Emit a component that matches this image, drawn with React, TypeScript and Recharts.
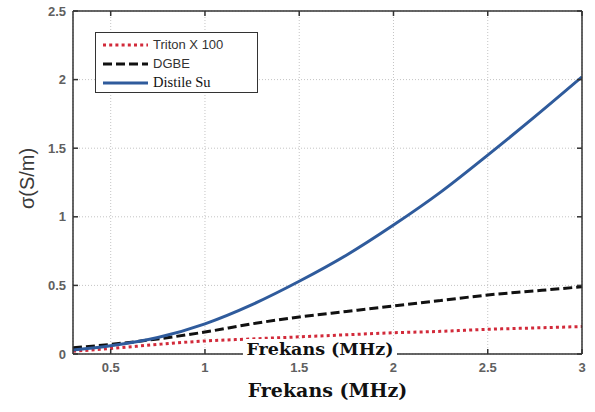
import React from 'react';
import { LineChart, Line, XAxis, YAxis, CartesianGrid, Legend } from 'recharts';

// Conductivity vs. frequency for three liquids
const frequencies = [0.3, 0.5, 0.75, 1, 1.25, 1.5, 1.75, 2, 2.25, 2.5, 2.75, 3];
const tritonX100 = [0.02, 0.04, 0.07, 0.095, 0.11, 0.125, 0.14, 0.155, 0.165, 0.18, 0.19, 0.2];
const dgbe = [0.045, 0.07, 0.11, 0.16, 0.22, 0.27, 0.31, 0.35, 0.39, 0.43, 0.46, 0.49];
const distileSu = [0.03, 0.06, 0.12, 0.22, 0.36, 0.53, 0.72, 0.94, 1.18, 1.45, 1.73, 2.02];

const xTicks = [0.5, 1, 1.5, 2, 2.5, 3];
const yTicks = [0, 0.5, 1, 1.5, 2, 2.5];

const seriesNames = ['Triton X 100', 'DGBE', 'Distile Su'];

const SANS = '"Liberation Sans", Arial, sans-serif';
const SERIF = '"DejaVu Serif", "Liberation Serif", serif';

const series = [
  { key: 'triton', name: seriesNames[0], values: tritonX100, color: '#d22a3a', dash: '3 3.2', font: SANS },
  { key: 'dgbe', name: seriesNames[1], values: dgbe, color: '#111111', dash: '9 4', font: SANS },
  { key: 'su', name: seriesNames[2], values: distileSu, color: '#2f5b9c', dash: undefined, font: '"Liberation Serif", serif' },
];

const data = frequencies.map((f, i) => {
  const row: Record<string, number> = { f };
  series.forEach((s) => {
    row[s.key] = s.values[i];
  });
  return row;
});

const FRAME = '#333';
const TICK_LEN = 5;

const LeftTick = (props: any) => {
  const { x, y, payload } = props;
  return (
    <g>
      <line x1={x + 7} y1={y} x2={x + 7 + TICK_LEN} y2={y} stroke={FRAME} strokeWidth={1.5} />
      <text x={x} y={y} dy="0.35em" textAnchor="end" fontFamily={SANS} fontSize={13} fontWeight="bold" fill="#606060">
        {payload.value}
      </text>
    </g>
  );
};

const BottomTick = (props: any) => {
  const { x, y, payload } = props;
  return (
    <g>
      <line x1={x} y1={y - 13} x2={x} y2={y - 13 - TICK_LEN} stroke={FRAME} strokeWidth={1.5} />
      <text x={x} y={y} dy="0.35em" textAnchor="middle" fontFamily={SANS} fontSize={13} fontWeight="bold" fill="#606060">
        {payload.value}
      </text>
    </g>
  );
};

const TopTick = (props: any) => {
  const { x, y } = props;
  return <line x1={x} y1={y} x2={x} y2={y + TICK_LEN} stroke={FRAME} strokeWidth={1.5} />;
};

const RightTick = (props: any) => {
  const { x, y } = props;
  return <line x1={x} y1={y} x2={x - TICK_LEN} y2={y} stroke={FRAME} strokeWidth={1.5} />;
};

const YTitle = (props: any) => {
  const vb = props.viewBox;
  const cx = vb.x + vb.width - 46;
  const cy = vb.y + vb.height / 2 - 4;
  return (
    <text
      x={cx}
      y={cy}
      transform={`rotate(-90 ${cx} ${cy})`}
      textAnchor="middle"
      dominantBaseline="central"
      fontFamily={SANS}
      fontSize={20}
      fill="#3a3a3a"
    >
      σ(S/m)
    </text>
  );
};

const LegendBox = () => (
  <div
    style={{
      boxSizing: 'border-box',
      width: 163,
      height: 61,
      border: `1.5px solid ${FRAME}`,
      background: '#fff',
      paddingTop: 2,
    }}
  >
    {series.map((s) => (
      <div key={s.key} style={{ display: 'flex', alignItems: 'center', height: 19 }}>
        <svg width={56} height={10} style={{ flex: 'none' }}>
          <line x1={7} y1={5} x2={52} y2={5} stroke={s.color} strokeWidth={3} strokeDasharray={s.dash} />
        </svg>
        <span
          style={{
            fontFamily: s.font,
            fontSize: s.key === 'su' ? 14.5 : 13,
            color: s.key === 'su' ? '#111' : '#333',
            lineHeight: '19px',
            marginLeft: 1,
          }}
        >
          {s.name}
        </span>
      </div>
    ))}
  </div>
);

export default function App() {
  return (
    <div style={{ position: 'absolute', left: 0, top: 0, width: 595, height: 412, background: '#fff' }}>
      <LineChart
        width={595}
        height={412}
        data={data}
        margin={{ top: 10, right: 12, bottom: 57, left: 72 }}
      >
        <CartesianGrid stroke="#c4c4c4" strokeDasharray="1 2" />
        <XAxis
          dataKey="f"
          type="number"
          domain={[0.3, 3]}
          ticks={xTicks}
          allowDataOverflow
          height={1}
          tickSize={0}
          tickMargin={13}
          tickLine={false}
          axisLine={{ stroke: FRAME, strokeWidth: 1.5 }}
          tick={<BottomTick />}
          interval={0}
          label={{
            value: 'Frekans (MHz)',
            position: 'bottom',
            offset: 29,
            fontFamily: SERIF,
            fontSize: 19,
            fontWeight: 'bold',
            fill: '#111',
          }}
        />
        <XAxis
          xAxisId="top"
          orientation="top"
          type="number"
          dataKey="f"
          domain={[0.3, 3]}
          ticks={xTicks}
          allowDataOverflow
          height={1}
          tickSize={0}
          tickMargin={0}
          tickLine={false}
          axisLine={{ stroke: FRAME, strokeWidth: 1.5 }}
          tick={<TopTick />}
          interval={0}
        />
        <YAxis
          type="number"
          domain={[0, 2.5]}
          ticks={yTicks}
          allowDataOverflow
          width={1}
          tickSize={0}
          tickMargin={7}
          tickLine={false}
          axisLine={{ stroke: FRAME, strokeWidth: 1.5 }}
          tick={<LeftTick />}
          interval={0}
          label={<YTitle />}
        />
        <YAxis
          yAxisId="right"
          orientation="right"
          type="number"
          domain={[0, 2.5]}
          ticks={yTicks}
          allowDataOverflow
          width={1}
          tickSize={0}
          tickMargin={0}
          tickLine={false}
          axisLine={{ stroke: FRAME, strokeWidth: 1.5 }}
          tick={<RightTick />}
          interval={0}
        />
        {series.map((s) => (
          <Line
            key={s.key}
            dataKey={s.key}
            name={s.name}
            type="monotone"
            stroke={s.color}
            strokeWidth={3}
            strokeDasharray={s.dash}
            dot={false}
            activeDot={false}
            isAnimationActive={false}
          />
        ))}
        <Legend
          layout="horizontal"
          verticalAlign="middle"
          align="center"
          width={163}
          wrapperStyle={{ left: 95, top: 32, width: 163, height: 61 }}
          content={<LegendBox />}
        />
      </LineChart>
      <div
        style={{
          position: 'absolute',
          left: 243,
          top: 339,
          width: 154,
          height: 21,
          background: '#fff',
          fontFamily: SERIF,
          fontWeight: 'bold',
          fontSize: 17.5,
          lineHeight: '21px',
          textAlign: 'center',
          color: '#111',
          whiteSpace: 'nowrap',
        }}
      >
        Frekans (MHz)
      </div>
    </div>
  );
}
